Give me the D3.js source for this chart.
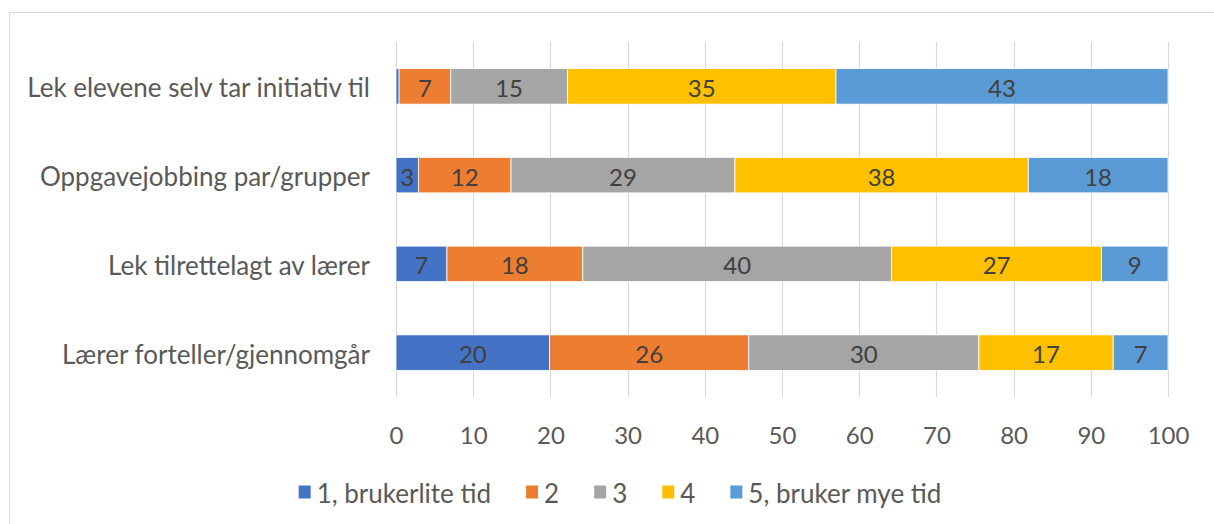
<!DOCTYPE html>
<html><head><meta charset="utf-8">
<script src="https://cdn.jsdelivr.net/npm/d3@7"></script>
<style>body{margin:0;background:#fff;} text{font-family:Lato,"Open Sans",sans-serif;}</style>
</head><body>
<svg id="c" width="1214" height="524"></svg>
<script>
const categories = ["Lek elevene selv tar initiativ til","Oppgavejobbing par/grupper","Lek tilrettelagt av lærer","Lærer forteller/gjennomgår"];
const seriesNames = ["1, brukerlite tid","2","3","4","5, bruker mye tid"];
const s1 = [0.4, 2.9, 6.6, 19.9];
const s2 = [6.7, 12.0, 17.6, 25.8];
const s3 = [15.1, 29.0, 40.0, 29.8];
const s4 = [34.8, 38.0, 27.2, 17.4];
const s5 = [43.0, 18.1, 8.6, 7.1];
const tickValues = [0,10,20,30,40,50,60,70,80,90,100];
const colors = ["#4472c4","#ed7d31","#a5a5a5","#ffc000","#5b9bd5"];

const seriesVals = [s1,s2,s3,s4,s5];
const rows = categories.map((c,i)=>{const o={cat:c}; seriesNames.forEach((s,j)=>o[s]=seriesVals[j][i]); return o;});
const stack = d3.stack().keys(seriesNames)(rows);

const svg = d3.select("#c");
svg.append("rect").attr("x",9.5).attr("y",12.5).attr("width",1220).attr("height",530)
  .attr("fill","#fff").attr("stroke","#d9d9d9").attr("stroke-width",1);

const x = d3.scaleLinear().domain([0,100]).range([396,1168]);
const y = d3.scaleBand().domain(categories).range([42,397]).paddingInner(0.6).paddingOuter(0.3);

svg.append("g").selectAll("line").data(tickValues).join("line")
  .attr("x1",d=>Math.round(x(d))+0.5).attr("x2",d=>Math.round(x(d))+0.5)
  .attr("y1",42).attr("y2",397).attr("stroke","#d9d9d9").attr("stroke-width",1.2);

const g = svg.append("g");
stack.forEach((layer,j)=>{
  const lg = g.append("g");
  lg.selectAll("rect").data(layer).join("rect")
    .attr("x",d=>x(d[0])).attr("width",d=>x(d[1])-x(d[0]))
    .attr("y",d=>y(d.data.cat)).attr("height",y.bandwidth())
    .attr("fill",colors[j]).attr("stroke","#fff").attr("stroke-width",0.8);
  lg.selectAll("text").data(layer.filter(d=>Math.round(d[1]-d[0])>=1)).join("text")
    .attr("x",d=>x((d[0]+d[1])/2)).attr("y",d=>y(d.data.cat)+y.bandwidth()/2+1)
    .attr("text-anchor","middle").attr("dominant-baseline","central")
    .attr("font-size",24).attr("fill","#404040")
    .text(d=>d3.format(".0f")(d[1]-d[0]));
});

svg.append("g").selectAll("text").data(categories).join("text")
  .attr("x",370).attr("y",d=>y(d)+y.bandwidth()/2+1)
  .attr("text-anchor","end").attr("dominant-baseline","central")
  .attr("font-size",26).attr("fill","#595959").text(d=>d);

const xAxis = svg.append("g").attr("transform","translate(0,397)")
  .call(d3.axisBottom(x).tickValues(tickValues).tickSize(0).tickPadding(37).tickFormat(d3.format("d")));
xAxis.select(".domain").remove();
xAxis.selectAll("text").attr("font-size",24).attr("fill","#595959").attr("font-family","Lato,'Open Sans',sans-serif")
  .attr("dy",null).attr("dominant-baseline","central");

const leg = svg.append("g");
const items = leg.selectAll("g").data(seriesNames).join("g");
items.append("rect").attr("width",12).attr("height",13).attr("y",-6.5).attr("fill",(d,i)=>colors[i]);
items.append("text").attr("x",18).attr("y",1).attr("dominant-baseline","central").attr("font-size",26).attr("fill","#595959").text(d=>d);
let xs=0; const pos=[];
const gap = 35;
items.each(function(){pos.push(xs); xs += this.getBBox().width + gap;});
const total = xs - gap;
const startX = 620 - total/2;
items.attr("transform",(d,i)=>`translate(${startX+pos[i]},492)`);
</script>
</body></html>
